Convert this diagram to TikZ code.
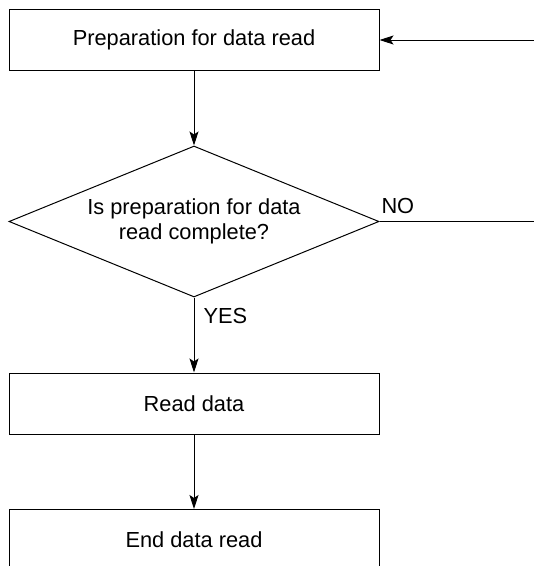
\documentclass[tikz,border=0pt]{standalone}
\usepackage{fontspec}
\setmainfont{Liberation Sans}
\usetikzlibrary{shapes.geometric,arrows.meta}
\begin{document}
\begin{tikzpicture}[x=1pt,y=-1pt,
  font=\fontsize{21.8}{25}\selectfont,
  line width=1pt,
  procbox/.style={draw, rectangle, minimum width=370pt, minimum height=61pt, inner sep=0pt},
  decision/.style={draw, diamond, aspect=2.45, minimum width=370pt, minimum height=151pt, inner sep=0pt, align=center},
  flow/.style={-{Stealth[length=14pt,width=9pt,inset=3pt]}},
  lbl/.style={anchor=base west, inner sep=0pt}]
\useasboundingbox (0,0) rectangle (534,566);
\node[procbox] (p) at (194,40) {Preparation for data read};
\node[decision] (q) at (194,221.5) {Is preparation for data\\read complete?};
\node[procbox] (r) at (194,403.5) {Read data};
\node[procbox] (e) at (194,540) {End data read};
\coordinate (in) at (534,40);
\coordinate (out) at (534,221.5);
\draw[flow] (in) -- (p.east);
\draw[flow] (p.south) -- (q.north);
\draw (q.east) -- (out);
\draw[flow] (q.south) -- (r.north);
\draw[flow] (r.south) -- (e.north);
\node[lbl] (no) at (381,213) {NO};
\node[lbl] (yes) at (203,323) {YES};
\end{tikzpicture}
\end{document}
